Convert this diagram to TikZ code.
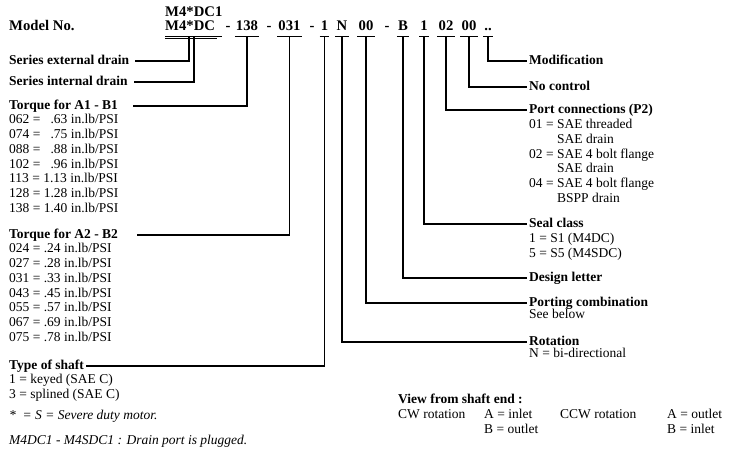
\documentclass[tikz,border=0pt]{standalone}
\usepackage{fontspec}
\setmainfont{Liberation Serif}
\newcommand{\fs}{\fontsize{13.5}{15}\selectfont}
\newcommand{\fc}{\fontsize{14.7}{16}\selectfont}
\begin{document}
\begin{tikzpicture}[x=1pt,y=-1pt,
  conn/.style={line width=1.35pt},
  lbl/.style={anchor=west,inner xsep=2pt,inner ysep=0pt,text height=7pt,text depth=0pt,font=\fs\bfseries},
  lbll/.style={lbl,inner xsep=0pt},
  txt/.style={anchor=base west,inner sep=0pt,font=\fs},
  itx/.style={anchor=base west,inner sep=0pt,font=\fs\itshape},
  code/.style={anchor=base,inner xsep=1pt,inner ysep=0pt,text depth=5pt,font=\fc\bfseries},
  codesep/.style={anchor=base,inner sep=0pt,font=\fc\bfseries}
]
\useasboundingbox (0,0) rectangle (745,457);
\fill[white] (0,0) rectangle (745,457);

% model number line
\node[anchor=base west,inner sep=0pt,font=\fc\bfseries] (model) at (9,31) {Model No.};
\node[anchor=base west,inner sep=0pt,font=\fc\bfseries] (mdc1) at (165,17) {M4*DC1};
\node[anchor=base west,inner sep=0pt,text depth=5pt,font=\fc\bfseries] (mdc) at (165,31) {M4*DC};
\node[codesep] (s1) at (228,31) {-};
\node[code] (c138) at (247,31) {138};
\node[codesep] (s2) at (269,31) {-};
\node[code] (c031) at (289.5,31) {031};
\node[codesep] (s3) at (312,31) {-};
\node[code] (c1) at (324.5,31) {1};
\node[code] (cN) at (342,31) {N};
\node[code] (c00) at (366,31) {00};
\node[codesep] (s4) at (387,31) {-};
\node[code] (cB) at (403,31) {B};
\node[code] (cS) at (424,31) {1};
\node[code] (c02) at (446,31) {02};
\node[code] (c00b) at (469,31) {00};
\node[code] (cdots) at (488,31) {..};
\foreach \n in {c138,c031,c1,cN,c00,cB,cS,c02,c00b,cdots}
  \draw[conn] (\n.south west) -- (\n.south east);
\draw[conn] (mdc.south west) -- ++(57,0);
\draw[conn] ([yshift=-2.5pt]mdc.south west) -- ++(52,0);

% left labels
\node[lbll] (serext) at (9,61) {Series external drain};
\node[lbll] (serint) at (9,82) {Series internal drain};
\node[lbll] (torA) at (9,106) {Torque for A1 - B1};
\node[lbll] (torB) at (9,235) {Torque for A2 - B2};
\node[lbll] (shaft) at (9,366) {Type of shaft};
\coordinate (eExt) at (135,61);
\coordinate (eInt) at (134,82);
\coordinate (eA1) at (133,106);
\coordinate (eA2) at (137,235);
\coordinate (eShaft) at (86,366);
\draw[conn] ([xshift=-1pt]mdc.south) |- (eExt);
\draw[conn] ([xshift=4pt]mdc.south) |- (eInt);
\draw[conn] (c138.south) |- (eA1);
\draw[conn] (c031.south) |- (eA2);
\draw[conn] (c1.south) |- (eShaft);

% A1-B1 list
\node[txt] (a1) at (9,123.6) {062 = \phantom{1}.63 in.lb/PSI};
\node[txt] (a2) at (9,138.4) {074 = \phantom{1}.75 in.lb/PSI};
\node[txt] (a3) at (9,153.3) {088 = \phantom{1}.88 in.lb/PSI};
\node[txt] (a4) at (9,168.1) {102 = \phantom{1}.96 in.lb/PSI};
\node[txt] (a5) at (9,182.9) {113 = 1.13 in.lb/PSI};
\node[txt] (a6) at (9,197.8) {128 = 1.28 in.lb/PSI};
\node[txt] (a7) at (9,212.6) {138 = 1.40 in.lb/PSI};
% A2-B2 list
\node[txt] (b1) at (9,252.6) {024 = .24 in.lb/PSI};
\node[txt] (b2) at (9,267.4) {027 = .28 in.lb/PSI};
\node[txt] (b3) at (9,282.3) {031 = .33 in.lb/PSI};
\node[txt] (b4) at (9,297.1) {043 = .45 in.lb/PSI};
\node[txt] (b5) at (9,311.9) {055 = .57 in.lb/PSI};
\node[txt] (b6) at (9,326.8) {067 = .69 in.lb/PSI};
\node[txt] (b7) at (9,341.6) {075 = .78 in.lb/PSI};
% shaft
\node[txt] (sh1) at (9,384) {1 = keyed (SAE C)};
\node[txt] (sh2) at (9,398.5) {3 = splined (SAE C)};
\node[itx] (note1) at (9,419.5) {*\ \ = S = Severe duty motor.};
\node[itx] (note2) at (9,444) {M4DC1 - M4SDC1 : Drain port is plugged.};

% right labels
\node[lbl] (modif) at (527,61) {Modification};
\node[lbl] (noctl) at (527,87) {No control};
\node[lbl] (port) at (527,110) {Port connections (P2)};
\node[lbl] (seal) at (527,224) {Seal class};
\node[lbl] (design) at (527,278) {Design letter};
\node[lbl] (porting) at (527,303) {Porting combination};
\node[lbl] (rot) at (527,342) {Rotation};
\draw[conn] (cdots.south) |- (modif.west);
\draw[conn] (c00b.south) |- (noctl.west);
\draw[conn] (c02.south) |- (port.west);
\draw[conn] (cS.south) |- (seal.west);
\draw[conn] (cB.south) |- (design.west);
\draw[conn] (c00.south) |- (porting.west);
\draw[conn] (cN.south) |- (rot.west);

\node[txt] (p1) at (529,128.6) {01 = SAE threaded};
\node[txt] (p2) at (557,143.4) {SAE drain};
\node[txt] (p3) at (529,158.2) {02 = SAE 4 bolt flange};
\node[txt] (p4) at (557,173) {SAE drain};
\node[txt] (p5) at (529,187.8) {04 = SAE 4 bolt flange};
\node[txt] (p6) at (557,202.6) {BSPP drain};
\node[txt] (sc1) at (529,242.6) {1 = S1 (M4DC)};
\node[txt] (sc2) at (529,257.4) {5 = S5 (M4SDC)};
\node[txt] (pc1) at (529,318.6) {See below};
\node[txt] (r1) at (529,357.6) {N = bi-directional};

% view from shaft end
\node[anchor=base west,inner sep=0pt,font=\fs\bfseries] (view) at (398,403.6) {View from shaft end :};
\node[txt] (cw) at (398,418.6) {CW rotation};
\node[txt] (cwa) at (484,418.6) {A = inlet};
\node[txt] (cwb) at (484,433.6) {B = outlet};
\node[txt] (ccw) at (560,418.6) {CCW rotation};
\node[txt] (ccwa) at (667,418.6) {A = outlet};
\node[txt] (ccwb) at (667,433.6) {B = inlet};
\end{tikzpicture}
\end{document}
